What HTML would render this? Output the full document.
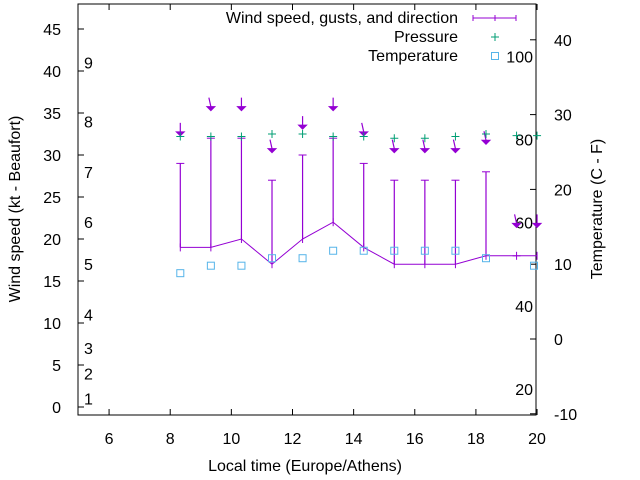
<!DOCTYPE html>
<html><head><meta charset="utf-8"><style>
body{margin:0;background:#fff}
svg{display:block;font-family:"Liberation Sans",sans-serif;font-size:16px}
</style></head><body>
<svg id="c" width="640" height="480">
<rect width="640" height="480" fill="#fff"/>
<g id="axes"></g>
<g id="marks"></g>
</svg>
<script>
const times=[8.33,9.33,10.33,11.33,12.33,13.33,14.33,15.33,16.33,17.33,18.33,19.33,20];
const windSpeed=[19,19,20,17,20,22,19,17,17,17,18,18,18];
const gusts=[29,32,32,27,30,32,29,27,27,27,28,18,null];
const pressure=[32.2,32.2,32.2,32.5,32.5,32.2,32.2,32.0,32.0,32.2,32.5,32.3,32.3];
const tempTimes=[8.33,9.33,10.33,11.33,12.33,13.33,14.33,15.33,16.33,17.33,18.33,19.9];
const temperature=[8.8,9.8,9.8,10.8,10.8,11.8,11.8,11.8,11.8,11.8,10.8,9.8];
const barbLevel=[32.4,35.4,35.4,30.4,33.2,35.4,32.4,30.4,30.4,30.4,31.4,21.5,21.5];
const barbSlant=[0,1,0,1,0,0,1,1,1,1,1,1,0];
const xTicks=[6,8,10,12,14,16,18,20];
const yTicks=[0,5,10,15,20,25,30,35,40,45];
const y2Ticks=[-10,0,10,20,30,40];
const beaufort=[[1,1],[2,4],[3,7],[4,11],[5,17],[6,22],[7,28],[8,34],[9,41]];
const fahr=[[20,-6.7],[40,4.4],[60,15.6],[80,26.7],[100,37.8]];

const L=78,R=536,T=4,B=415;
const X=v=>78.5+(v-5)*30.57;
const Y=v=>407-v*8.4;
const Y2=v=>339-v*7.48;
const NS='http://www.w3.org/2000/svg';
function mk(tag,attrs,parent,text){const e=document.createElementNS(NS,tag);for(const k in attrs)e.setAttribute(k,attrs[k]);if(text!==undefined)e.textContent=text;parent.appendChild(e);return e;}
const ax=document.getElementById('axes'),mg=document.getElementById('marks');
let e;
e=mk('rect',{x:L,y:T,width:R-L,height:B-T,fill:'none',stroke:'#000','stroke-width':1},ax);

xTicks.forEach(t=>{const x=X(t);
 mk('line',{x1:x,y1:B,x2:x,y2:B-6,stroke:'#000'},ax);mk('line',{x1:x,y1:T,x2:x,y2:T+6,stroke:'#000'},ax);
 e=mk('text',{x:x,y:444,'text-anchor':'middle'},ax,t);
 });
yTicks.forEach(t=>{const y=Y(t);
 mk('line',{x1:L,y1:y,x2:L+6,y2:y,stroke:'#000'},ax);
 e=mk('text',{x:61,y:y+6,'text-anchor':'end'},ax,t);
 });
y2Ticks.forEach(t=>{const y=Y2(t);
 mk('line',{x1:R,y1:y,x2:R-6,y2:y,stroke:'#000'},ax);
 e=mk('text',{x:554,y:y+6},ax,t);
 });
beaufort.forEach(b=>{e=mk('text',{x:84,y:Y(b[1])+6},ax,b[0]);
 });
fahr.forEach(f=>{e=mk('text',{x:533,y:Y2(f[1])+6,'text-anchor':'end'},ax,f[0]);
 });
e=mk('text',{x:305,y:471,'text-anchor':'middle'},ax,'Local time (Europe/Athens)');

e=mk('text',{x:0,y:0,'text-anchor':'middle',transform:'translate(20,209) rotate(-90)'},ax,'Wind speed (kt - Beaufort)');

e=mk('text',{x:0,y:0,'text-anchor':'middle',transform:'translate(602,209) rotate(-90)'},ax,'Temperature (C - F)');


const P='#9400d3',G='#009e73',C='#56b4e9';
let pts=times.map((t,i)=>X(t)+','+Y(windSpeed[i])).join(' ');
e=mk('polyline',{points:pts,fill:'none',stroke:P,'stroke-width':1},mg);

times.forEach((t,i)=>{const x=X(t),y=Y(windSpeed[i]);
 mk('line',{x1:x,y1:y-4,x2:x,y2:y+4,stroke:P},mg);
 if(gusts[i]!==null){const g=Y(gusts[i]);
  e=mk('line',{x1:x,y1:y,x2:x,y2:g,stroke:P,'stroke-width':1.2},mg);
  
  mk('line',{x1:x-4,y1:g,x2:x+4,y2:g,stroke:P},mg);}
 const by=Y(barbLevel[i]),dx=barbSlant[i]?-2:0;
 e=mk('path',{d:`M${x+dx},${by-12} L${x},${by-3}`,stroke:P,fill:'none','stroke-width':1.2},mg);
 
 e=mk('path',{d:`M${x-4},${by-3} L${x+4},${by-3} L${x},${by+1} Z`,stroke:P,fill:P,'stroke-width':1},mg);
 
 const py=Y(pressure[i]);
 e=mk('path',{d:`M${x-4},${py} H${x+4} M${x},${py-4} V${py+4}`,stroke:G,'stroke-width':1},mg);
 
});
tempTimes.forEach((t,i)=>{const x=X(t),y=Y2(temperature[i]);
 e=mk('rect',{x:x-3.5,y:y-3.5,width:7,height:7,fill:'none',stroke:C},mg);
 });

const lg=mk('g',{},mg);
e=mk('text',{x:458,y:23,'text-anchor':'end'},lg,'Wind speed, gusts, and direction');

mk('path',{d:'M473,18 H516 M473,15 V21 M495,15 V21 M516,15 V21',stroke:P},lg);
e=mk('text',{x:458,y:42,'text-anchor':'end'},lg,'Pressure');

mk('path',{d:'M491,37 H499 M495,33 V41',stroke:G},lg);
e=mk('text',{x:458,y:61,'text-anchor':'end'},lg,'Temperature');

mk('rect',{x:491.5,y:52.5,width:7,height:7,fill:'none',stroke:C},lg);
</script>
</body></html>
